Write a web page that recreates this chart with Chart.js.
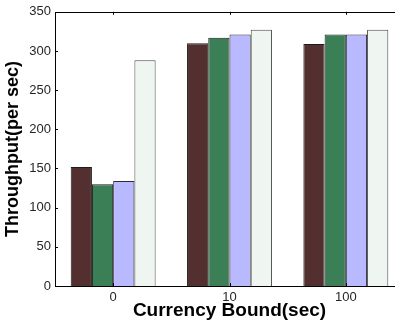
<!DOCTYPE html>
<html>
<head>
<meta charset="utf-8">
<script src="https://cdn.jsdelivr.net/npm/chart.js@4/dist/chart.umd.min.js"></script>
<style>
  html, body { margin: 0; padding: 0; background: #fff; overflow: hidden; }
  #wrap { width: 395px; height: 322px; overflow: hidden; }
  canvas { display: block; }
</style>
</head>
<body>
<div id="wrap"><canvas id="c" width="412" height="322"></canvas></div>
<script>
// Throughput per currency bound, four configurations per group
const categories = ['0', '10', '100'];
const seriesNames = ['Config 1', 'Config 2', 'Config 3', 'Config 4'];
const series1 = [152, 310, 309];
const series2 = [130, 317, 321];
const series3 = [134, 321, 321];
const series4 = [288, 327, 327];
const yTicks = [0, 50, 100, 150, 200, 250, 300, 350];

const fills = ['#53302f', '#3b7f56', '#b9b9ff', '#eff5f1'];
const edges = ['#1c1c1c', '#1c1c1c', '#2a2a3a', '#4a4a4a'];
const values = [series1, series2, series3, series4];

const FONT = "'Liberation Sans', Arial, sans-serif";

// Box frame with inward tick marks, drawn on top of the bars
const boxFrame = {
  id: 'boxFrame',
  afterDatasetsDraw(chart) {
    const { ctx, chartArea: a, scales } = chart;
    ctx.save();
    ctx.strokeStyle = '#000';
    ctx.lineWidth = 1;
    ctx.beginPath();
    ctx.rect(Math.round(a.left) + 0.5, Math.round(a.top) + 0.5,
             Math.round(a.right - a.left), Math.round(a.bottom - a.top));
    ctx.stroke();
    const tl = 3;
    ctx.beginPath();
    scales.y.ticks.forEach(t => {
      const y = Math.round(scales.y.getPixelForValue(t.value)) + 0.5;
      ctx.moveTo(a.left, y); ctx.lineTo(a.left + tl, y);
      ctx.moveTo(a.right, y); ctx.lineTo(a.right - tl, y);
    });
    categories.forEach((c, i) => {
      const x = Math.round(scales.x.getPixelForValue(i)) + 0.5;
      ctx.moveTo(x, a.top); ctx.lineTo(x, a.top + tl);
      ctx.moveTo(x, a.bottom); ctx.lineTo(x, a.bottom - tl);
    });
    ctx.stroke();
    ctx.restore();
  }
};

new Chart(document.getElementById('c'), {
  type: 'bar',
  data: {
    labels: categories,
    datasets: values.map((v, i) => ({
      label: seriesNames[i],
      data: v,
      backgroundColor: fills[i],
      borderColor: edges[i],
      borderWidth: 1,
      borderSkipped: 'bottom',
      categoryPercentage: 0.73,
      barPercentage: 1.0
    }))
  },
  options: {
    responsive: false,
    animation: false,
    devicePixelRatio: 1,
    layout: { padding: { left: 0, top: 11, right: 8, bottom: 0 } },
    plugins: { legend: { display: false }, tooltip: { enabled: false } },
    scales: {
      x: {
        grid: { display: false, drawTicks: false },
        border: { display: false },
        ticks: { color: '#262626', font: { family: FONT, size: 13 }, padding: 4, maxRotation: 0 },
        title: {
          display: true,
          text: 'Currency Bound(sec)',
          color: '#000',
          font: { family: FONT, size: 19, weight: 'bold' },
          padding: { top: 0, bottom: 0 }
        },
        afterFit(s) { s.height = 36; }
      },
      y: {
        min: 0, max: 350,
        afterBuildTicks(s) { s.ticks = yTicks.map(v => ({ value: v })); },
        grid: { display: false, drawTicks: false },
        border: { display: false },
        ticks: { color: '#262626', font: { family: FONT, size: 13 }, padding: 4 },
        title: {
          display: true,
          text: 'Throughput(per sec)',
          color: '#000',
          font: { family: FONT, size: 18, weight: 'bold' },
          padding: { top: 2, bottom: 0 }
        },
        afterFit(s) { s.width = 55; }
      }
    }
  },
  plugins: [boxFrame]
});
</script>
</body>
</html>
